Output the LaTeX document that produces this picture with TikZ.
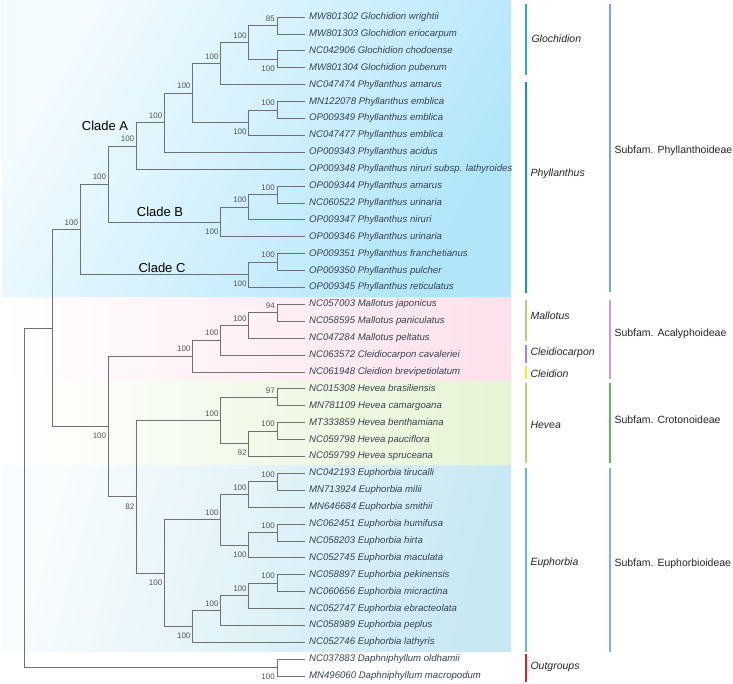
\documentclass[tikz,border=0pt]{standalone}
\usepackage{fontspec}
\setmainfont{Liberation Sans}
\definecolor{branchgray}{RGB}{112,112,112}
\definecolor{leafink}{RGB}{55,66,82}
\definecolor{bsgray}{RGB}{85,85,85}
\definecolor{phyBg}{RGB}{176,229,250}
\definecolor{acaBg}{RGB}{253,224,235}
\definecolor{croBg}{RGB}{229,245,212}
\definecolor{eupBg}{RGB}{200,232,243}
\definecolor{glochBar}{RGB}{38,170,225}
\definecolor{phylBar}{RGB}{30,140,228}
\definecolor{phySub}{RGB}{112,168,232}
\definecolor{mallBar}{RGB}{168,214,120}
\definecolor{cldcBar}{RGB}{180,122,232}
\definecolor{cldBar}{RGB}{240,236,40}
\definecolor{acaSub}{RGB}{200,150,236}
\definecolor{croSub}{RGB}{92,184,92}
\definecolor{eupBar}{RGB}{100,184,208}
\definecolor{eupSub}{RGB}{122,174,240}
\definecolor{outBar}{RGB}{226,32,32}
\begin{document}
\begin{tikzpicture}
    [x=1pt, y=-1pt,
    branch/.style={draw=branchgray, line width=0.8pt},
    leaf/.style={anchor=west, inner xsep=4pt, inner ysep=0pt, text height=7pt, text depth=2pt, text=leafink, font=\fontsize{9.6}{11}\selectfont\itshape},
    bsbase/.style={anchor=east, inner sep=1pt, xshift=-1pt, text=bsgray, font=\fontsize{8}{9}\selectfont},
    bsup/.style={bsbase, yshift=7pt},
    bsdn/.style={bsbase, yshift=-9.5pt},
    clade/.style={font=\fontsize{13}{15}\selectfont},
    genus/.style={anchor=west, font=\fontsize{10.5}{12}\selectfont\itshape, text=black!85},
    subfam/.style={anchor=west, font=\fontsize{10.5}{12}\selectfont, text=black!85},
    bar/.style={line width=1.3pt}]
    \useasboundingbox (0,0) rectangle (733,683);
    \fill[white] (0,0) rectangle (733,683);

    % subfamily backgrounds
    \shade[left color=white!85!phyBg, right color=phyBg, shading angle=60] (2,0) rectangle (511,297);
    \shade[left color=white, right color=acaBg] (2,297) rectangle (511,381);
    \shade[left color=white, right color=croBg] (2,381) rectangle (511,465);
    \shade[left color=white!88!eupBg, right color=eupBg, shading angle=75] (2,465) rectangle (511,651);

    % tips
    \node[leaf] (l0) at (305,17.0) {MW801302 Glochidion wrightii};
    \node[leaf] (l1) at (305,33.9) {MW801303 Glochidion eriocarpum};
    \node[leaf] (l2) at (305,50.8) {NC042906 Glochidion chodoense};
    \node[leaf] (l3) at (305,67.7) {MW801304 Glochidion puberum};
    \node[leaf] (l4) at (305,84.6) {NC047474 Phyllanthus amarus};
    \node[leaf] (l5) at (305,101.5) {MN122078 Phyllanthus emblica};
    \node[leaf] (l6) at (305,118.4) {OP009349 Phyllanthus emblica};
    \node[leaf] (l7) at (305,135.3) {NC047477 Phyllanthus emblica};
    \node[leaf] (l8) at (305,152.2) {OP009343 Phyllanthus acidus};
    \node[leaf] (l9) at (305,169.1) {OP009348 Phyllanthus niruri subsp. lathyroides};
    \node[leaf] (l10) at (305,186.0) {OP009344 Phyllanthus amarus};
    \node[leaf] (l11) at (305,202.9) {NC060522 Phyllanthus urinaria};
    \node[leaf] (l12) at (305,219.8) {OP009347 Phyllanthus niruri};
    \node[leaf] (l13) at (305,236.7) {OP009346 Phyllanthus urinaria};
    \node[leaf] (l14) at (305,253.6) {OP009351 Phyllanthus franchetianus};
    \node[leaf] (l15) at (305,270.5) {OP009350 Phyllanthus pulcher};
    \node[leaf] (l16) at (305,287.4) {OP009345 Phyllanthus reticulatus};
    \node[leaf] (l17) at (305,304.3) {NC057003 Mallotus japonicus};
    \node[leaf] (l18) at (305,321.2) {NC058595 Mallotus paniculatus};
    \node[leaf] (l19) at (305,338.1) {NC047284 Mallotus peltatus};
    \node[leaf] (l20) at (305,355.0) {NC063572 Cleidiocarpon cavaleriei};
    \node[leaf] (l21) at (305,371.9) {NC061948 Cleidion brevipetiolatum};
    \node[leaf] (l22) at (305,388.8) {NC015308 Hevea brasiliensis};
    \node[leaf] (l23) at (305,405.7) {MN781109 Hevea camargoana};
    \node[leaf] (l24) at (305,422.6) {MT333859 Hevea benthamiana};
    \node[leaf] (l25) at (305,439.5) {NC059798 Hevea pauciflora};
    \node[leaf] (l26) at (305,456.4) {NC059799 Hevea spruceana};
    \node[leaf] (l27) at (305,473.3) {NC042193 Euphorbia tirucalli};
    \node[leaf] (l28) at (305,490.2) {MN713924 Euphorbia milii};
    \node[leaf] (l29) at (305,507.1) {MN646684 Euphorbia smithii};
    \node[leaf] (l30) at (305,524.0) {NC062451 Euphorbia humifusa};
    \node[leaf] (l31) at (305,540.9) {NC058203 Euphorbia hirta};
    \node[leaf] (l32) at (305,557.8) {NC052745 Euphorbia maculata};
    \node[leaf] (l33) at (305,574.7) {NC058897 Euphorbia pekinensis};
    \node[leaf] (l34) at (305,591.6) {NC060656 Euphorbia micractina};
    \node[leaf] (l35) at (305,608.5) {NC052747 Euphorbia ebracteolata};
    \node[leaf] (l36) at (305,625.4) {NC058989 Euphorbia peplus};
    \node[leaf] (l37) at (305,642.3) {NC052746 Euphorbia lathyris};
    \node[leaf] (l38) at (305,659.2) {NC037883 Daphniphyllum oldhamii};
    \node[leaf] (l39) at (305,676.1) {MN496060 Daphniphyllum macropodum};

    % internal nodes
    \coordinate (root) at (24,497.8);
    \coordinate (ingrp) at (52.1,327.9);
    \coordinate (outgrp) at (276.9,667.7);
    \coordinate (phyl) at (80.2,229.3);
    \coordinate (cAB) at (108.3,183.9);
    \coordinate (cA) at (136.4,145.9);
    \coordinate (a1) at (164.5,122.6);
    \coordinate (a2) at (192.6,93.1);
    \coordinate (a3) at (220.7,63.5);
    \coordinate (gl) at (248.8,42.4);
    \coordinate (gl1) at (276.9,25.5);
    \coordinate (gl2) at (276.9,59.3);
    \coordinate (em1) at (248.8,122.6);
    \coordinate (em2) at (276.9,110.0);
    \coordinate (cB) at (220.7,221.9);
    \coordinate (b2) at (248.8,207.1);
    \coordinate (b3) at (276.9,194.5);
    \coordinate (cC) at (248.8,274.7);
    \coordinate (c1) at (276.9,262.1);
    \coordinate (rest) at (108.3,426.4);
    \coordinate (ac0) at (192.6,356.1);
    \coordinate (ac1) at (220.7,340.2);
    \coordinate (ma2) at (248.8,325.4);
    \coordinate (ma3) at (276.9,312.8);
    \coordinate (croeup) at (136.4,496.8);
    \coordinate (hv0) at (220.7,420.5);
    \coordinate (hv1) at (276.9,397.3);
    \coordinate (hv2) at (248.8,443.7);
    \coordinate (hv3) at (276.9,431.1);
    \coordinate (eu0) at (164.5,573.1);
    \coordinate (eu1) at (220.7,519.8);
    \coordinate (eu3) at (248.8,494.4);
    \coordinate (eu4) at (276.9,481.8);
    \coordinate (eu5) at (248.8,545.1);
    \coordinate (eu6) at (276.9,532.5);
    \coordinate (eu2) at (192.6,626.5);
    \coordinate (eu7) at (220.7,610.6);
    \coordinate (eu8) at (248.8,595.8);
    \coordinate (eu9) at (276.9,583.2);

    % branches
    \draw[branch] (root) |- (ingrp) (root) |- (outgrp);
    \draw[branch] (outgrp) |- (l38.west) (outgrp) |- (l39.west);
    \draw[branch] (ingrp) |- (phyl) (ingrp) |- (rest);
    \draw[branch] (phyl) |- (cAB) (phyl) |- (cC);
    \draw[branch] (cAB) |- (cA) (cAB) |- (cB);
    \draw[branch] (cA) |- (a1) (cA) |- (l9.west);
    \draw[branch] (a1) |- (a2) (a1) |- (l8.west);
    \draw[branch] (a2) |- (a3) (a2) |- (em1);
    \draw[branch] (a3) |- (gl) (a3) |- (l4.west);
    \draw[branch] (gl) |- (gl1) (gl) |- (gl2);
    \draw[branch] (gl1) |- (l0.west) (gl1) |- (l1.west);
    \draw[branch] (gl2) |- (l2.west) (gl2) |- (l3.west);
    \draw[branch] (em1) |- (em2) (em1) |- (l7.west);
    \draw[branch] (em2) |- (l5.west) (em2) |- (l6.west);
    \draw[branch] (cB) |- (b2) (cB) |- (l13.west);
    \draw[branch] (b2) |- (b3) (b2) |- (l12.west);
    \draw[branch] (b3) |- (l10.west) (b3) |- (l11.west);
    \draw[branch] (cC) |- (c1) (cC) |- (l16.west);
    \draw[branch] (c1) |- (l14.west) (c1) |- (l15.west);
    \draw[branch] (rest) |- (ac0) (rest) |- (croeup);
    \draw[branch] (ac0) |- (ac1) (ac0) |- (l21.west);
    \draw[branch] (ac1) |- (ma2) (ac1) |- (l20.west);
    \draw[branch] (ma2) |- (ma3) (ma2) |- (l19.west);
    \draw[branch] (ma3) |- (l17.west) (ma3) |- (l18.west);
    \draw[branch] (croeup) |- (hv0) (croeup) |- (eu0);
    \draw[branch] (hv0) |- (hv1) (hv0) |- (hv2);
    \draw[branch] (hv1) |- (l22.west) (hv1) |- (l23.west);
    \draw[branch] (hv2) |- (hv3) (hv2) |- (l26.west);
    \draw[branch] (hv3) |- (l24.west) (hv3) |- (l25.west);
    \draw[branch] (eu0) |- (eu1) (eu0) |- (eu2);
    \draw[branch] (eu1) |- (eu3) (eu1) |- (eu5);
    \draw[branch] (eu3) |- (eu4) (eu3) |- (l29.west);
    \draw[branch] (eu4) |- (l27.west) (eu4) |- (l28.west);
    \draw[branch] (eu5) |- (eu6) (eu5) |- (l32.west);
    \draw[branch] (eu6) |- (l30.west) (eu6) |- (l31.west);
    \draw[branch] (eu2) |- (eu7) (eu2) |- (l37.west);
    \draw[branch] (eu7) |- (eu8) (eu7) |- (l36.west);
    \draw[branch] (eu8) |- (eu9) (eu8) |- (l35.west);
    \draw[branch] (eu9) |- (l33.west) (eu9) |- (l34.west);

    % bootstrap values
    \node[bsup] (bsPhyl) at (phyl) {100};
    \node[bsdn] (bsRest) at (rest) {100};
    \node[bsup] (bsAB) at (cAB) {100};
    \node[bsdn] (bsC) at (cC) {100};
    \node[bsup] (bsA) at (cA) {100};
    \node[bsdn] (bsB) at (cB) {100};
    \node[bsup] (bsA1) at (a1) {100};
    \node[bsup] (bsA2) at (a2) {100};
    \node[bsup] (bsA3) at (a3) {100};
    \node[bsup] (bsGl) at (gl) {100};
    \node[bsup] (bsGl1) at (gl1) {85};
    \node[bsdn] (bsGl2) at (gl2) {100};
    \node[bsdn] (bsEm1) at (em1) {100};
    \node[bsup] (bsEm2) at (em2) {100};
    \node[bsup] (bsB2) at (b2) {100};
    \node[bsup] (bsB3) at (b3) {100};
    \node[bsup] (bsC1) at (c1) {100};
    \node[bsup] (bsAc0) at (ac0) {100};
    \node[bsup] (bsAc1) at (ac1) {100};
    \node[bsup] (bsMa2) at (ma2) {100};
    \node[bsup] (bsMa3) at (ma3) {94};
    \node[bsdn] (bsCE) at (croeup) {82};
    \node[bsup] (bsHv0) at (hv0) {100};
    \node[bsup] (bsHv1) at (hv1) {97};
    \node[bsdn] (bsHv2) at (hv2) {92};
    \node[bsup] (bsHv3) at (hv3) {100};
    \node[bsdn] (bsEu0) at (eu0) {100};
    \node[bsup] (bsEu1) at (eu1) {100};
    \node[bsup] (bsEu3) at (eu3) {100};
    \node[bsup] (bsEu4) at (eu4) {100};
    \node[bsdn] (bsEu5) at (eu5) {100};
    \node[bsup] (bsEu6) at (eu6) {100};
    \node[bsdn] (bsEu2) at (eu2) {100};
    \node[bsup] (bsEu7) at (eu7) {100};
    \node[bsup] (bsEu8) at (eu8) {100};
    \node[bsup] (bsEu9) at (eu9) {100};
    \node[bsdn] (bsOut) at (outgrp) {100};

    % clade names
    \node[clade] (nameA) at (105,126) {Clade A};
    \node[clade] (nameB) at (160,212) {Clade B};
    \node[clade] (nameC) at (162,268) {Clade C};

    % genus bars
    \draw[bar, glochBar] (526,4) -- (526,75);
    \draw[bar, phylBar] (526,82) -- (526,293);
    \draw[bar, mallBar] (526,300) -- (526,341);
    \draw[bar, cldcBar] (526,345) -- (526,363);
    \draw[bar, cldBar] (526,366) -- (526,379);
    \draw[bar, mallBar] (526,383) -- (526,463);
    \draw[bar, eupBar] (526,468) -- (526,652);
    \draw[bar, outBar] (526,654) -- (526,682);
    \node[genus] (gGloch) at (528,39) {Glochidion};
    \node[genus] (gPhyl) at (527,174) {Phyllanthus};
    \node[genus] (gMall) at (527,316) {Mallotus};
    \node[genus] (gCldc) at (527,353) {Cleidiocarpon};
    \node[genus] (gCld) at (527,374) {Cleidion};
    \node[genus] (gHev) at (527,425) {Hevea};
    \node[genus] (gEup) at (527,563) {Euphorbia};
    \node[genus] (gOut) at (527,667) {Outgroups};

    % subfamily bars
    \draw[bar, phySub] (610,4) -- (610,292);
    \draw[bar, acaSub] (610,300) -- (610,379);
    \draw[bar, croSub] (610,383) -- (610,463);
    \draw[bar, eupSub] (610,468) -- (610,652);
    \node[subfam] (sPhy) at (611,151) {Subfam. Phyllanthoideae};
    \node[subfam] (sAca) at (611,334) {Subfam. Acalyphoideae};
    \node[subfam] (sCro) at (611,420) {Subfam. Crotonoideae};
    \node[subfam] (sEup) at (611,564) {Subfam. Euphorbioideae};
\end{tikzpicture}
\end{document}
